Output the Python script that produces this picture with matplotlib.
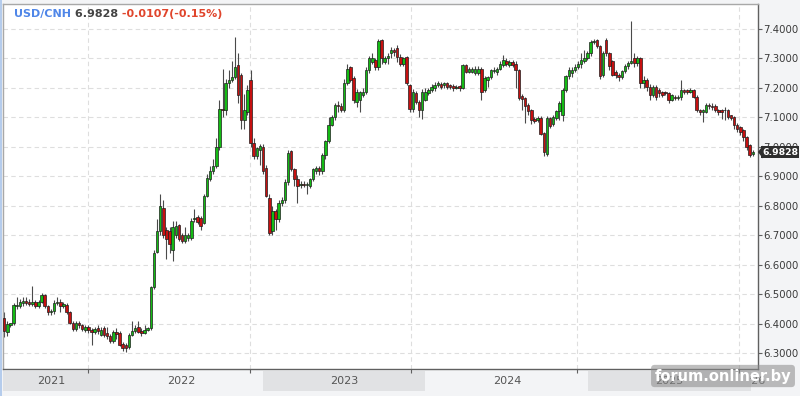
import matplotlib
matplotlib.use('Agg')
import matplotlib.pyplot as plt
import matplotlib.dates as mdates
import matplotlib.transforms as mtrans
from matplotlib.patches import Rectangle, Polygon
import numpy as np
import pandas as pd

# ---------------- data (weekly USD/CNH candles) ----------------
start_date = '2021-05-31'

opens = [
    6.420, 6.372, 6.398, 6.402, 6.460, 6.462, 6.470, 6.478, 6.475, 6.468,
    6.476, 6.462, 6.475, 6.497, 6.460, 6.440, 6.445, 6.472, 6.475, 6.460,
    6.465, 6.440, 6.405, 6.383, 6.405, 6.395, 6.378, 6.390, 6.380, 6.372,
    6.386, 6.363, 6.386, 6.370, 6.358, 6.342, 6.372, 6.368, 6.332, 6.330,
    6.322, 6.363, 6.375, 6.390, 6.376, 6.370, 6.380, 6.386, 6.526, 6.643,
    6.716, 6.794, 6.720, 6.716, 6.650, 6.700, 6.735, 6.700, 6.682, 6.690,
    6.690, 6.755, 6.762, 6.760, 6.744, 6.834, 6.890, 6.918, 6.935, 7.000,
    7.130, 7.126, 7.216, 7.227, 7.238, 7.278, 7.244, 7.092, 7.120, 7.227,
    7.013, 6.970, 6.990, 7.000, 6.930, 6.828, 6.716, 6.783, 6.755, 6.810,
    6.822, 6.880, 6.985, 6.924, 6.890, 6.872, 6.876, 6.870, 6.867, 6.890,
    6.918, 6.929, 6.918, 6.974, 7.019, 7.075, 7.103, 7.143, 7.139, 7.126,
    7.216, 7.270, 7.233, 7.154, 7.160, 7.176, 7.188, 7.261, 7.289, 7.294,
    7.270, 7.362, 7.289, 7.300, 7.317, 7.328, 7.334, 7.306, 7.283, 7.306,
    7.210, 7.130, 7.182, 7.154, 7.126, 7.160, 7.182, 7.193, 7.199, 7.210,
    7.213, 7.210, 7.216, 7.210, 7.207, 7.200, 7.207, 7.200, 7.277, 7.255,
    7.255, 7.252, 7.250, 7.266, 7.194, 7.227, 7.236, 7.259, 7.255, 7.266,
    7.278, 7.292, 7.278, 7.289, 7.283, 7.261, 7.172, 7.166, 7.144, 7.127,
    7.096, 7.093, 7.099, 7.049, 6.976, 7.099, 7.077, 7.099, 7.121, 7.110,
    7.194, 7.239, 7.250, 7.262, 7.272, 7.283, 7.290, 7.300, 7.317, 7.356,
    7.362, 7.341, 7.244, 7.364, 7.318, 7.290, 7.254, 7.244, 7.236, 7.256,
    7.273, 7.284, 7.300, 7.285, 7.301, 7.216, 7.227, 7.205, 7.176, 7.205,
    7.193, 7.188, 7.188, 7.182, 7.161, 7.170, 7.165, 7.170, 7.193, 7.193,
    7.188, 7.193, 7.170, 7.125, 7.119, 7.119, 7.142, 7.139, 7.139, 7.125,
    7.125, 7.126, 7.125, 7.108, 7.102, 7.074, 7.068, 7.057, 7.034, 7.006,
    6.975,
]

highs = [
    6.440, 6.410, 6.405, 6.470, 6.490, 6.485, 6.490, 6.490, 6.485, 6.528,
    6.480, 6.480, 6.505, 6.500, 6.465, 6.450, 6.480, 6.490, 6.485, 6.475,
    6.470, 6.445, 6.410, 6.410, 6.410, 6.400, 6.395, 6.395, 6.385, 6.390,
    6.395, 6.390, 6.392, 6.390, 6.365, 6.380, 6.385, 6.375, 6.340, 6.335,
    6.370, 6.410, 6.395, 6.410, 6.385, 6.395, 6.390, 6.530, 6.650, 6.755,
    6.840, 6.820, 6.730, 6.730, 6.750, 6.750, 6.740, 6.710, 6.730, 6.710,
    6.760, 6.790, 6.770, 6.765, 6.840, 6.910, 6.935, 6.960, 7.030, 7.160,
    7.266, 7.230, 7.260, 7.290, 7.373, 7.320, 7.250, 7.180, 7.210, 7.260,
    7.030, 7.000, 7.010, 7.010, 6.940, 6.840, 6.800, 6.790, 6.820, 6.830,
    6.890, 6.990, 6.990, 6.930, 6.905, 6.885, 6.885, 6.880, 6.895, 6.930,
    6.935, 6.935, 6.980, 7.025, 7.100, 7.110, 7.150, 7.155, 7.150, 7.230,
    7.283, 7.275, 7.240, 7.195, 7.190, 7.200, 7.270, 7.310, 7.320, 7.300,
    7.365, 7.365, 7.310, 7.320, 7.340, 7.335, 7.345, 7.315, 7.305, 7.310,
    7.215, 7.195, 7.190, 7.160, 7.195, 7.200, 7.200, 7.215, 7.220, 7.225,
    7.220, 7.222, 7.220, 7.215, 7.215, 7.210, 7.210, 7.280, 7.283, 7.270,
    7.270, 7.275, 7.275, 7.270, 7.240, 7.240, 7.265, 7.270, 7.270, 7.290,
    7.311, 7.300, 7.295, 7.295, 7.290, 7.265, 7.180, 7.170, 7.150, 7.130,
    7.100, 7.105, 7.104, 7.050, 7.104, 7.100, 7.108, 7.125, 7.155, 7.200,
    7.245, 7.270, 7.270, 7.280, 7.290, 7.317, 7.328, 7.325, 7.362, 7.366,
    7.366, 7.345, 7.325, 7.370, 7.322, 7.295, 7.260, 7.250, 7.260, 7.280,
    7.290, 7.428, 7.320, 7.310, 7.305, 7.240, 7.235, 7.215, 7.210, 7.210,
    7.200, 7.190, 7.190, 7.185, 7.180, 7.175, 7.175, 7.227, 7.195, 7.195,
    7.200, 7.195, 7.175, 7.130, 7.130, 7.150, 7.150, 7.150, 7.145, 7.130,
    7.130, 7.135, 7.130, 7.110, 7.105, 7.080, 7.070, 7.060, 7.036, 7.010,
    6.990,
]

lows = [
    6.355, 6.360, 6.390, 6.395, 6.450, 6.455, 6.460, 6.465, 6.460, 6.460,
    6.455, 6.455, 6.470, 6.455, 6.430, 6.430, 6.435, 6.465, 6.440, 6.455,
    6.435, 6.400, 6.375, 6.375, 6.385, 6.375, 6.372, 6.370, 6.330, 6.365,
    6.365, 6.358, 6.355, 6.350, 6.335, 6.335, 6.350, 6.325, 6.310, 6.305,
    6.315, 6.360, 6.370, 6.370, 6.360, 6.365, 6.375, 6.380, 6.520, 6.640,
    6.700, 6.690, 6.620, 6.640, 6.615, 6.690, 6.680, 6.675, 6.675, 6.680,
    6.685, 6.745, 6.740, 6.720, 6.740, 6.830, 6.885, 6.910, 6.930, 6.990,
    7.100, 7.110, 7.200, 7.220, 7.230, 7.150, 7.060, 7.060, 7.110, 7.000,
    6.960, 6.960, 6.940, 6.910, 6.830, 6.700, 6.700, 6.720, 6.745, 6.800,
    6.810, 6.870, 6.920, 6.867, 6.810, 6.860, 6.865, 6.840, 6.860, 6.885,
    6.910, 6.905, 6.910, 6.960, 7.015, 7.070, 7.090, 7.120, 7.120, 7.120,
    7.210, 7.220, 7.150, 7.135, 7.120, 7.170, 7.180, 7.250, 7.280, 7.260,
    7.260, 7.280, 7.280, 7.280, 7.300, 7.310, 7.289, 7.275, 7.275, 7.210,
    7.120, 7.120, 7.145, 7.100, 7.095, 7.155, 7.175, 7.185, 7.190, 7.205,
    7.195, 7.200, 7.195, 7.195, 7.190, 7.195, 7.190, 7.195, 7.250, 7.250,
    7.250, 7.245, 7.245, 7.160, 7.185, 7.205, 7.230, 7.250, 7.244, 7.260,
    7.270, 7.275, 7.270, 7.270, 7.200, 7.160, 7.127, 7.082, 7.110, 7.077,
    7.080, 7.085, 7.040, 6.970, 6.970, 7.065, 7.070, 7.090, 7.093, 7.088,
    7.185, 7.230, 7.238, 7.255, 7.265, 7.267, 7.285, 7.295, 7.310, 7.350,
    7.335, 7.232, 7.236, 7.310, 7.260, 7.240, 7.235, 7.225, 7.230, 7.250,
    7.265, 7.280, 7.270, 7.275, 7.200, 7.200, 7.190, 7.160, 7.170, 7.160,
    7.170, 7.170, 7.175, 7.150, 7.155, 7.160, 7.160, 7.160, 7.180, 7.180,
    7.183, 7.165, 7.120, 7.110, 7.085, 7.115, 7.130, 7.125, 7.120, 7.110,
    7.095, 7.090, 7.095, 7.090, 7.060, 7.050, 7.040, 7.020, 6.990, 6.965,
    6.970,
]

closes = [
    6.375, 6.400, 6.402, 6.465, 6.466, 6.475, 6.478, 6.472, 6.468, 6.476,
    6.462, 6.475, 6.497, 6.460, 6.440, 6.445, 6.472, 6.475, 6.460, 6.468,
    6.440, 6.405, 6.383, 6.405, 6.395, 6.383, 6.390, 6.378, 6.372, 6.383,
    6.375, 6.380, 6.363, 6.358, 6.342, 6.372, 6.366, 6.330, 6.320, 6.320,
    6.363, 6.375, 6.386, 6.374, 6.370, 6.380, 6.386, 6.526, 6.640, 6.716,
    6.800, 6.700, 6.688, 6.670, 6.730, 6.733, 6.688, 6.682, 6.700, 6.700,
    6.750, 6.760, 6.745, 6.733, 6.834, 6.896, 6.918, 6.935, 7.000, 7.130,
    7.125, 7.216, 7.227, 7.238, 7.272, 7.176, 7.092, 7.126, 7.193, 7.013,
    6.970, 6.995, 7.005, 6.920, 6.834, 6.710, 6.783, 6.755, 6.810, 6.822,
    6.880, 6.980, 6.924, 6.890, 6.867, 6.876, 6.872, 6.876, 6.890, 6.924,
    6.929, 6.918, 6.974, 7.019, 7.075, 7.103, 7.143, 7.139, 7.126, 7.216,
    7.266, 7.227, 7.160, 7.188, 7.188, 7.188, 7.261, 7.300, 7.303, 7.272,
    7.360, 7.300, 7.300, 7.310, 7.328, 7.322, 7.306, 7.283, 7.300, 7.216,
    7.130, 7.188, 7.154, 7.126, 7.188, 7.188, 7.193, 7.205, 7.210, 7.218,
    7.205, 7.216, 7.205, 7.205, 7.200, 7.203, 7.199, 7.277, 7.255, 7.263,
    7.263, 7.266, 7.266, 7.188, 7.233, 7.236, 7.261, 7.262, 7.266, 7.283,
    7.294, 7.281, 7.289, 7.278, 7.261, 7.166, 7.163, 7.138, 7.121, 7.093,
    7.088, 7.099, 7.043, 6.982, 7.099, 7.071, 7.102, 7.121, 7.149, 7.194,
    7.239, 7.262, 7.260, 7.272, 7.283, 7.294, 7.300, 7.317, 7.356, 7.361,
    7.341, 7.239, 7.318, 7.318, 7.273, 7.244, 7.244, 7.236, 7.256, 7.273,
    7.284, 7.290, 7.285, 7.300, 7.216, 7.227, 7.205, 7.176, 7.205, 7.170,
    7.182, 7.176, 7.182, 7.159, 7.176, 7.165, 7.170, 7.193, 7.188, 7.188,
    7.193, 7.170, 7.125, 7.119, 7.125, 7.142, 7.139, 7.134, 7.125, 7.119,
    7.119, 7.124, 7.102, 7.097, 7.074, 7.062, 7.051, 7.034, 7.000, 6.972,
    6.983,
]

price_ticks = [6.3, 6.4, 6.5, 6.6, 6.7, 6.8, 6.9, 7.0, 7.1, 7.2, 7.3, 7.4]
year_labels = ['2021', '2022', '2023', '2024', '2025', "'26"]
pair_name = 'USD/CNH'
last_price_text = '6.9828'
change_text = '-0.0107(-0.15%)'
watermark = 'forum.onliner.by'

# ---------------- layout ----------------
W, H = 800, 396
fig = plt.figure(figsize=(W / 100, H / 100), dpi=100, facecolor='#f3f4f6')
ax_l, ax_r, ax_t, ax_b = 3, 758, 4, 369
ax = fig.add_axes([ax_l / W, 1 - ax_b / H, (ax_r - ax_l) / W, (ax_b - ax_t) / H])
ax.set_facecolor('white')

dates = pd.date_range(start_date, periods=len(closes), freq='7D')
xd = mdates.date2num(dates)

d2022 = mdates.date2num(pd.Timestamp('2022-01-01'))
d2026 = mdates.date2num(pd.Timestamp('2026-01-01'))
px_per_day = (751 - 100) / (d2026 - d2022)
x_left = d2022 - (100 - ax_l) / px_per_day
x_right = d2022 + (ax_r - 100) / px_per_day
ax.set_xlim(x_left, x_right)

# y: 7.4 at y=29px, 0.1 per 29.5px
def px_to_val(py):
    return 7.4 - (py - 29) / 295.0
ax.set_ylim(px_to_val(ax_b), px_to_val(ax_t))

# grid
for t in price_ticks:
    ax.axhline(t, color='#dedede', lw=0.8, dashes=(4, 3), zorder=0)
grid_dates = ['2021-12-05', '2022-12-03', '2023-11-29', '2024-12-07', '2025-12-05']
gx = mdates.date2num(pd.to_datetime(grid_dates))
for g in gx:
    ax.axvline(g, color='#dedede', lw=0.8, dashes=(4, 3), zorder=0)

# candles
o = np.array(opens); c = np.array(closes)
hi = np.array(highs); lo = np.array(lows)
up = c >= o
colors = np.where(up, '#14bb14', '#c61010')
ax.vlines(xd, lo, hi, color='#4a4a4a', lw=0.8, zorder=2)
body = np.where(np.abs(c - o) < 0.002, 0.002 * np.where(up, 1, -1), c - o)
ax.bar(xd, body, bottom=o, width=5.6, color=colors, edgecolor='#1e1e1e',
       linewidth=0.5, zorder=3)

# axes styling
for s in ['top', 'left']:
    ax.spines[s].set_color('#a8a8a8')
    ax.spines[s].set_linewidth(1.0)
for s in ['right', 'bottom']:
    ax.spines[s].set_color('#606060')
    ax.spines[s].set_linewidth(1.0)

ax.yaxis.tick_right()
ax.set_yticks(price_ticks)
ax.set_yticklabels([f'{t:.4f}' for t in price_ticks])
ax.tick_params(axis='y', direction='out', length=3, width=0.8, color='#606060',
               labelsize=7.3, labelcolor='#3a3a3a', pad=1)
ax.set_xticks(gx)
ax.set_xticklabels([])
ax.tick_params(axis='x', direction='out', length=3, width=0.8, color='#606060')

# year band below the axis
blend = mtrans.blended_transform_factory(ax.transData, fig.transFigure)
band_y0 = 1 - 391 / H
band_h = (391 - 371) / H
year_bounds = [x_left] + list(mdates.date2num(pd.to_datetime(
    ['2022-01-01', '2023-01-01', '2024-01-01', '2025-01-01', '2026-01-01']))) + [x_right]
for i, lab in enumerate(year_labels):
    a, b = year_bounds[i], year_bounds[i + 1]
    if i % 2 == 0 and i < 5:
        ax.add_patch(Rectangle((a, band_y0), b - a, band_h, transform=blend,
                               facecolor='#e1e2e4', edgecolor='none', clip_on=False, zorder=1))
    cx = (a + b) / 2 if i < 5 else x_right
    ax.text(cx, 1 - 381 / H, lab, transform=blend, ha='center', va='center',
            fontsize=8, color='#555555', clip_on=False, zorder=4)

# last price marker
yblend = mtrans.blended_transform_factory(ax.transAxes, ax.transData)
last = closes[-1]
ax.text(1.0058, last, last_price_text, transform=yblend, ha='left', va='center',
        fontsize=6.7, fontweight='bold', color='white', clip_on=False, zorder=6,
        bbox=dict(boxstyle='square,pad=0.12', fc='#2e2e2e', ec='none'))
ax.add_patch(Polygon([(1.0, last), (1.0065, last + 0.022), (1.0065, last - 0.022)],
                     closed=True, transform=yblend, facecolor='#2e2e2e',
                     edgecolor='none', clip_on=False, zorder=6))

# title
t1 = ax.text(14 / W, 1 - 14 / H, pair_name, transform=fig.transFigure, ha='left',
             va='center', fontsize=8, fontweight='bold', color='#4f86e8', zorder=7)
t2 = ax.annotate(' ' + last_price_text, xy=(1, 0.5), xycoords=t1, ha='left',
                 va='center', fontsize=8, fontweight='bold', color='#444444', zorder=7)
t3 = ax.annotate(' ' + change_text, xy=(1, 0.5), xycoords=t2, ha='left',
                 va='center', fontsize=8, fontweight='bold', color='#e0452c', zorder=7)

# left edge accent
fig.add_artist(plt.Line2D([0.6 / W, 0.6 / W], [0, 1], transform=fig.transFigure,
                          color='#a9c4ea', lw=1.2))

# watermark
fig.text(723 / W, 1 - 376 / H, watermark, ha='center', va='center', fontsize=10.5,
         fontweight='bold', color='white', zorder=10,
         bbox=dict(boxstyle='round,pad=0.25', fc='#8a8a8a', ec='none', alpha=0.55))

fig.savefig('out.png', dpi=100, facecolor=fig.get_facecolor())
